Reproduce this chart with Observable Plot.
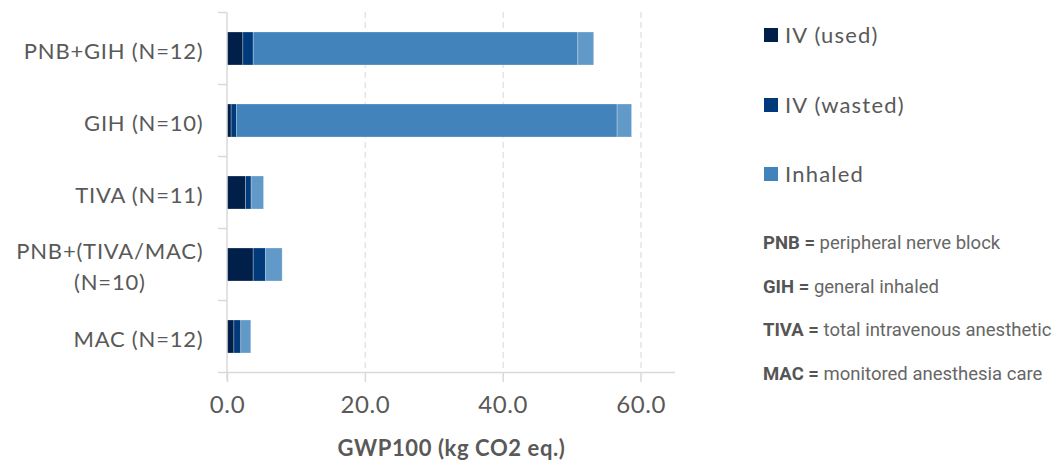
<!DOCTYPE html>
<html>
<head>
<meta charset="utf-8">
<script src="https://cdn.jsdelivr.net/npm/d3@7"></script>
<script src="https://cdn.jsdelivr.net/npm/@observablehq/plot@0.6"></script>
<style>
  html, body { margin: 0; padding: 0; background: #fff; }
  #wrap { position: relative; width: 1058px; height: 462px; overflow: hidden; background: #fff; }
  #chart { position: absolute; left: 0; top: 0; }
  .leg { position: absolute; left: 764px; font-family: Lato, sans-serif; font-size: 22px; color: #595959; letter-spacing: 1.2px; display: flex; align-items: center; }
  .sw { width: 14px; height: 14px; margin-right: 7px; }
  .note { position: absolute; left: 763px; font-family: Roboto, sans-serif; font-size: 18.5px; color: #666; white-space: nowrap; }
  .note b { color: #555; }
</style>
</head>
<body>
<div id="wrap">
  <div id="chart"></div>
  <div id="legend"></div>
</div>
<script>
const categories = ["PNB+GIH (N=12)", "GIH (N=10)", "TIVA (N=11)", "PNB+(TIVA/MAC)\n(N=10)", "MAC (N=12)"];
const seriesNames = ["IV (used)", "IV (wasted)", "Inhaled", "Other"];
const seriesColors = ["#00204a", "#003a7a", "#4283bb", "#6199c8"];
const ivUsed   = [2.3, 0.6, 2.7, 3.8, 1.0];
const ivWasted = [1.5, 0.8, 0.8, 1.8, 1.0];
const inhaled  = [47.1, 55.2, 0, 0, 0];
const other    = [2.3, 2.1, 1.8, 2.4, 1.45];
const xTicks = [0, 20, 40, 60];
const xLabel = "GWP100 (kg CO2 eq.)";
const legendItems = ["IV (used)", "IV (wasted)", "Inhaled"];
const notes = [["PNB", "peripheral nerve block"], ["GIH", "general inhaled"], ["TIVA", "total intravenous anesthetic"], ["MAC", "monitored anesthesia care"]];

const valuesBySeries = [ivUsed, ivWasted, inhaled, other];
const data = [];
categories.forEach((c, i) => {
  seriesNames.forEach((s, j) => data.push({cat: c, series: s, value: valuesBySeries[j][i]}));
});

const plot = Plot.plot({
  width: 690,
  height: 462,
  marginLeft: 227,
  marginRight: 15,
  marginTop: 12,
  marginBottom: 89,
  style: {fontFamily: "Lato, sans-serif", background: "white", overflow: "visible"},
  x: {domain: [0, 65]},
  y: {domain: categories, paddingInner: 0.54, paddingOuter: 0.27, label: null},
  color: {domain: seriesNames, range: seriesColors},
  marks: [
    Plot.ruleX(xTicks.slice(1), {stroke: "#e4e4e4", strokeWidth: 1.5, strokeDasharray: "6,4"}),
    Plot.barX(data, Plot.stackX({y: "cat", x: "value", fill: "series", stroke: "#ffffff", strokeOpacity: 0.35, strokeWidth: 0.75})),
    Plot.axisY({tickSize: 0, tickPadding: 24, fontSize: 22, fill: "#595959", lineHeight: 1.4, label: null}),
    Plot.axisX({ticks: xTicks, tickFormat: d => d.toFixed(1), tickSize: 9, stroke: "#d9d9d9", strokeWidth: 1.5, tickPadding: 13, fontSize: 24, fill: "#595959", label: null}),
    Plot.text([xLabel], {frameAnchor: "bottom", dy: 75, text: d => d, fontSize: 22, fontWeight: "bold", fill: "#595959", lineAnchor: "middle"})
  ]
});
document.getElementById("chart").appendChild(plot);

const svg = d3.select(plot);
// letter spacing on category labels and axis title
svg.selectAll('g[aria-label="y-axis tick label"] text').attr("letter-spacing", "0.8px");
svg.selectAll('g[aria-label="text"] text').attr("letter-spacing", "0.6px");
svg.selectAll('g[aria-label="x-axis tick label"] text').attr("letter-spacing", "0.6px");
// center the second line of a two-line category label under its first line
svg.selectAll('g[aria-label="y-axis tick label"] text').each(function() {
  const tspans = this.querySelectorAll("tspan");
  if (tspans.length > 1) {
    const w0 = tspans[0].getComputedTextLength();
    for (let k = 1; k < tspans.length; k++) {
      const w = tspans[k].getComputedTextLength();
      tspans[k].setAttribute("dx", -(w0 - w) / 2);
    }
  }
});

// Axis lines and category separators through the plot's scales
const xs = plot.scale("x"), ys = plot.scale("y");
const x0 = xs.apply(0), xEnd = xs.apply(65);
const half = ys.step / 2;
const yTop = ys.apply(categories[0]) + ys.bandwidth / 2 - half;
const yBot = ys.apply(categories[categories.length - 1]) + ys.bandwidth / 2 + half;
const g = svg.append("g").attr("stroke", "#d9d9d9").attr("stroke-width", 1.5);
g.append("line").attr("x1", x0).attr("x2", x0).attr("y1", yTop).attr("y2", yBot + 7);
g.append("line").attr("x1", x0 - 9).attr("x2", xEnd).attr("y1", yBot).attr("y2", yBot);
categories.forEach(c => {
  const y = ys.apply(c) + ys.bandwidth / 2 - half;
  g.append("line").attr("x1", x0 - 9).attr("x2", x0).attr("y1", y).attr("y2", y);
});

// Legend
const leg = document.getElementById("legend");
const legTops = [36, 106, 175];
legendItems.forEach((name, i) => {
  const d = document.createElement("div");
  d.className = "leg";
  d.style.top = (legTops[i] - 15) + "px";
  d.innerHTML = `<span class="sw" style="background:${seriesColors[seriesNames.indexOf(name)]}"></span><span>${name}</span>`;
  leg.appendChild(d);
});
const noteTops = [232, 276, 319, 363];
notes.forEach(([abbr, text], i) => {
  const d = document.createElement("div");
  d.className = "note";
  d.style.top = noteTops[i] + "px";
  d.innerHTML = `<b>${abbr} =</b> ${text}`;
  leg.appendChild(d);
});
</script>
</body>
</html>
